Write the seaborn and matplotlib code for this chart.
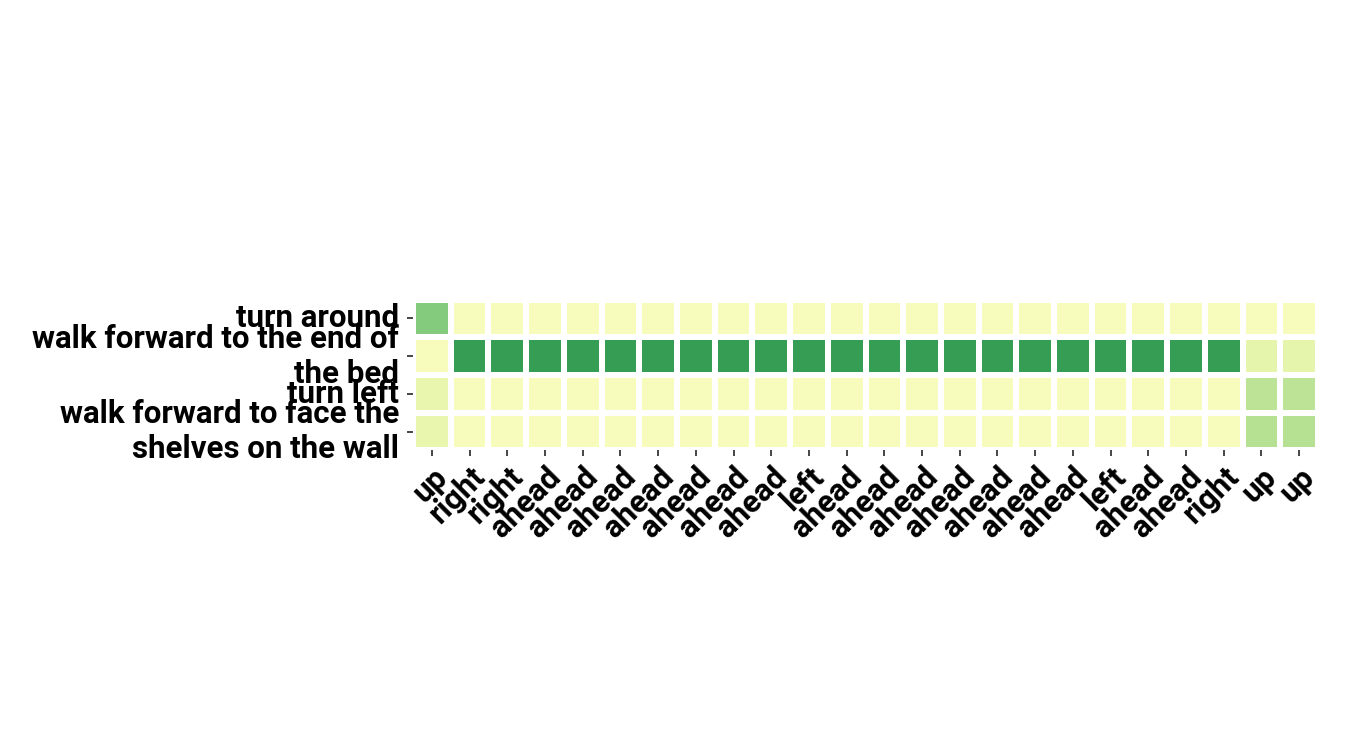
import textwrap
import numpy as np
import pandas as pd
import matplotlib
matplotlib.use("Agg")
import matplotlib.pyplot as plt
import seaborn as sns

instructions = [
    "turn around",
    "walk forward to the end of the bed",
    "turn left",
    "walk forward to face the shelves on the wall",
]
actions = ["up", "right", "right", "ahead", "ahead", "ahead", "ahead", "ahead",
           "ahead", "ahead", "left", "ahead", "ahead", "ahead", "ahead", "ahead",
           "ahead", "ahead", "left", "ahead", "ahead", "right", "up", "up"]

# attention weights per action (rows: instructions)
row_turn_around = [0.47] + [0.12] * 21 + [0.12, 0.12]
row_walk_bed = [0.12] + [0.67] * 21 + [0.20, 0.20]
row_turn_left = [0.19] + [0.12] * 21 + [0.33, 0.33]
row_walk_shelves = [0.19] + [0.12] * 21 + [0.35, 0.35]

sns.set_style("ticks")
plt.rcParams["font.family"] = ["Roboto", "DejaVu Sans"]
plt.rcParams["text.color"] = "black"

df = pd.DataFrame(
    [row_turn_around, row_walk_bed, row_turn_left, row_walk_shelves],
    index=[textwrap.fill(s, 26) for s in instructions],
)

fig, ax = plt.subplots(figsize=(13.5, 7.5), dpi=100)
sns.heatmap(df, ax=ax, cmap="YlGn", vmin=0, vmax=1, square=True,
            linewidths=4.3, linecolor="white", cbar=False)
ax.set_xticklabels(actions, rotation=45, ha="right", rotation_mode="anchor",
                   fontsize=22.5, fontweight="bold", color="black")
ax.set_yticklabels(df.index, rotation=0, fontsize=22.5, fontweight="bold",
                   color="black")
ax.tick_params(axis="both", length=4.5, width=1.2, color="#262626")
ax.tick_params(axis="y", pad=5.5)
fig.subplots_adjust(left=413 / 1350, right=1318 / 1350, bottom=0.1, top=0.9)
plt.savefig("out.png", dpi=100)
